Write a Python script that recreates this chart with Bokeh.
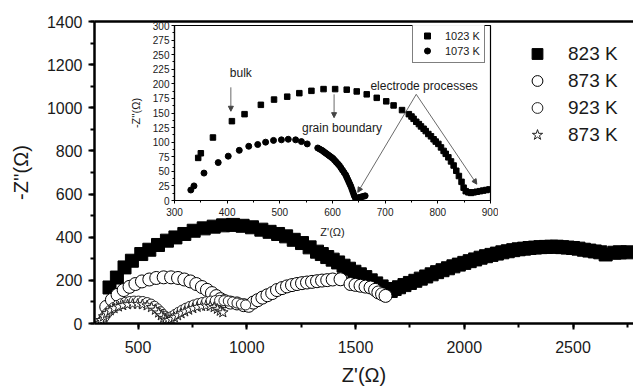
from bokeh.plotting import figure
from bokeh.models import (Range1d, LinearAxis, Legend, LegendItem, Label, Arrow,
                          NormalHead, SingleIntervalTicker, FixedTicker)
from bokeh.layouts import row
from bokeh.embed import file_html
from bokeh.resources import INLINE

FONT = "Liberation Sans"
TXT = "#1a1a1a"

# ---------------- main data ----------------
z823_re = [369, 403, 438, 472, 515, 552, 592, 633, 672, 713, 756, 802, 848, 891, 937, 981,
           1024, 1067, 1105, 1144, 1181, 1216, 1254, 1289, 1323, 1345, 1370, 1395, 1420, 1445,
           1470, 1495, 1520, 1545, 1570, 1595, 1620, 1645, 1662, 1680, 1700, 1725, 1750, 1775,
           1800, 1825, 1850, 1875, 1900, 1925, 1950, 1975, 2000, 2025, 2050, 2075, 2100, 2125,
           2150, 2175, 2200, 2225, 2250, 2275, 2300, 2325, 2350, 2375, 2400, 2425, 2450, 2475,
           2500, 2525, 2550, 2575, 2600, 2625, 2650, 2690, 2715, 2750]
z823_im = [167, 213, 260, 291, 322, 342, 364, 384, 399, 415, 430, 441, 449, 455, 457, 453,
           446, 435, 425, 415, 404, 388, 373, 353, 333, 322, 308, 296, 283, 268,
           254, 240, 228, 215, 200, 186, 172, 158, 151, 160, 168, 178, 188, 198,
           208, 218, 228, 238, 247, 256, 265, 273, 281, 289, 297, 305, 312, 318,
           324, 330, 335, 340, 344, 347, 350, 352, 354, 355, 356, 356, 354, 352,
           350, 347, 342, 338, 334, 330, 320, 328, 330, 330]

z873_re = [354, 380, 406, 434, 461, 488, 518, 552, 584, 618, 652, 684, 713, 741, 768, 794,
           817, 840, 860, 879, 898, 925, 955, 986, 1009, 1030, 1050, 1072, 1095, 1117, 1139,
           1162, 1185, 1208, 1231, 1254, 1277, 1300, 1323, 1346, 1370, 1395, 1431, 1477,
           1500, 1523, 1546, 1569, 1590, 1605, 1622, 1638]
z873_im = [77, 110, 133, 155, 170, 183, 195, 204, 211, 214, 214, 211, 204, 195, 183, 169,
           156, 141, 127, 113, 104, 97, 93, 85, 82, 97, 108, 120, 131, 141, 155,
           164, 172, 178, 183, 187, 190, 193, 196, 199, 201, 204, 205, 183,
           179, 175, 171, 167, 156, 144, 136, 128]

z923_re = [335, 345, 358, 372, 388, 405, 423, 442, 462, 482, 502, 522, 542, 560, 576, 590,
           603, 615, 627, 640, 655, 670, 686, 703, 720, 738, 756, 775, 795, 815, 835, 855,
           875, 895, 915, 935, 955, 975, 995]
z923_im = [10, 30, 48, 62, 74, 84, 92, 98, 102, 104, 104, 102, 97, 90, 80, 68,
           55, 42, 32, 28, 32, 42, 52, 62, 71, 79, 86, 92, 97, 101, 104, 106,
           107, 106, 104, 100, 95, 90, 86]

zstar_re = [320, 330, 342, 356, 372, 390, 410, 430, 452, 475, 498, 520, 542, 562, 580, 595,
            607, 618, 628, 640, 653, 667, 682, 698, 715, 733, 752, 772, 792, 812, 832, 850,
            865, 878, 890]
zstar_im = [2, 15, 32, 47, 60, 70, 78, 84, 88, 90, 90, 88, 83, 75, 63, 50,
            37, 25, 18, 16, 20, 28, 37, 46, 55, 63, 70, 76, 80, 82, 80, 75,
            67, 58, 51]

main_labels = ["823 K", "873 K", "923 K", "873 K"]

# ---------------- inset data ----------------
i1023_re = [345, 350, 373, 409, 433, 464, 489, 514, 537, 560, 583, 605, 627, 646, 665, 684,
            702, 716, 732, 745, 750, 754, 759, 764, 768, 773, 777, 782, 787, 792, 796, 801,
            806, 811, 815, 820, 825, 830, 835, 840, 845, 849, 853, 858, 863, 868, 874, 880,
            886, 892, 898]
i1023_im = [73, 81, 108, 136, 148, 164, 173, 178, 184, 188, 191, 191, 190, 187, 182, 176,
            170, 163, 155, 148, 144, 140, 135, 131, 127, 123, 119, 114, 110, 105, 101, 97,
            91, 85, 80, 74, 67, 60, 51, 42, 32, 22, 16, 14, 13, 14, 15, 16,
            17, 18, 19]

i1073_re = [331, 337, 356, 383, 402, 423, 441, 458, 473, 488, 503, 516, 530, 541, 552, 572,
            576, 580, 583, 586, 589, 592, 595, 598, 601, 604, 607, 610, 613, 616, 619, 622,
            625, 627, 629, 631, 633, 635, 637, 639, 641, 643, 646, 650, 654, 658, 662]
i1073_im = [18, 25, 47, 65, 76, 86, 93, 96, 100, 103, 104, 105, 104, 101, 97, 90,
            88, 86, 84, 82, 80, 78, 76, 74, 72, 69, 66, 63, 60, 56, 52, 48,
            44, 40, 36, 32, 28, 24, 19, 14, 9, 5, 4, 5, 6, 7, 8]

inset_labels = ["1023 K", "1073 K"]

# ---------------- main figure ----------------
p = figure(width=633, height=389, x_range=Range1d(300, 2778), y_range=Range1d(0, 1400),
           output_backend="svg", toolbar_location=None,
           min_border_left=94, min_border_right=0, min_border_top=21, min_border_bottom=66,
           outline_line_color=None, background_fill_color="white", border_fill_color="white")
p.grid.visible = False

r823 = p.scatter(z823_re, z823_im, marker="square", size=13, fill_color="black", line_color="black")
r873 = p.scatter(z873_re, z873_im, marker="circle", size=13, fill_color="white", line_color="black", line_width=1)
r923 = p.scatter(z923_re, z923_im, marker="circle", size=10, fill_color="white", line_color="#222", line_width=1)
rstar = p.scatter(zstar_re, zstar_im, marker="star", size=11, fill_color="white", line_color="#222", line_width=1)

for ax in (p.xaxis[0], p.yaxis[0]):
    ax.axis_line_width = 2.5
    ax.major_tick_line_width = 2
    ax.minor_tick_line_width = 2
    ax.major_tick_out = 6
    ax.major_tick_in = 0
    ax.minor_tick_out = 4
    ax.minor_tick_in = 0
    ax.major_label_text_font = FONT
    ax.major_label_text_font_size = "16px"
    ax.major_label_text_color = TXT
    ax.axis_label_text_font = FONT
    ax.axis_label_text_font_size = "20px"
    ax.axis_label_text_font_style = "normal"
    ax.axis_label_text_color = TXT

p.xaxis[0].ticker = SingleIntervalTicker(interval=500, num_minor_ticks=2)
p.yaxis[0].ticker = SingleIntervalTicker(interval=200, num_minor_ticks=2)
p.xaxis[0].axis_label = "Z'(Ω)"
p.yaxis[0].axis_label = "-Z''(Ω)"
p.xaxis[0].major_label_standoff = 11
p.xaxis[0].axis_label_standoff = 8
p.yaxis[0].major_label_standoff = 6
p.yaxis[0].axis_label_standoff = 12

top = LinearAxis(ticker=FixedTicker(ticks=[]), axis_line_width=2.5,
                 major_label_text_font_size="0px")
p.add_layout(top, "above")

leg = Legend(items=[LegendItem(label=l, renderers=[r]) for l, r in
                    zip(main_labels, [r823, r873, r923, rstar])],
             location=(428, 175), label_text_font=FONT, label_text_font_size="19px",
             label_text_color=TXT, glyph_width=30, glyph_height=27, spacing=0, padding=0,
             margin=0, label_standoff=16, border_line_color=None, background_fill_alpha=0)
p.add_layout(leg, "center")

# ---------------- inset figure (overlaid, absolutely positioned) ----------------
q = figure(width=372, height=262, x_range=Range1d(300, 900), y_range=Range1d(0, 300),
           output_backend="svg", toolbar_location=None,
           min_border_left=48, min_border_right=8, min_border_top=21, min_border_bottom=66,
           outline_line_color="black", outline_line_width=1.2,
           background_fill_color="white", border_fill_alpha=0,
           styles={"position": "absolute", "left": "126px", "top": "4px"})
q.grid.visible = False

s1 = q.scatter(i1023_re, i1023_im, marker="square", size=5.5, fill_color="black", line_color="black")
s2 = q.scatter(i1073_re, i1073_im, marker="circle", size=6, fill_color="black", line_color="black")

for ax in (q.xaxis[0], q.yaxis[0]):
    ax.axis_line_width = 1.2
    ax.major_tick_out = 3
    ax.major_tick_in = 0
    ax.minor_tick_out = 2
    ax.minor_tick_in = 0
    ax.major_label_text_font = FONT
    ax.major_label_text_font_size = "10px"
    ax.major_label_text_color = TXT
    ax.axis_label_text_font = FONT
    ax.axis_label_text_font_size = "11px"
    ax.axis_label_text_font_style = "normal"
    ax.axis_label_text_color = TXT

q.xaxis[0].ticker = SingleIntervalTicker(interval=100, num_minor_ticks=2)
q.yaxis[0].ticker = SingleIntervalTicker(interval=25, num_minor_ticks=2)
q.xaxis[0].axis_label = "Z'(Ω)"
q.yaxis[0].axis_label = "-Z''(Ω)"
q.xaxis[0].major_label_standoff = 4
q.xaxis[0].axis_label_standoff = 7
q.yaxis[0].major_label_standoff = 2
q.yaxis[0].axis_label_standoff = 8

ileg = Legend(items=[LegendItem(label=l, renderers=[r]) for l, r in zip(inset_labels, [s1, s2])],
              location=(238, 137), label_text_font=FONT, label_text_font_size="11px",
              label_text_color=TXT, glyph_width=20, glyph_height=15, spacing=0, padding=4,
              margin=0, label_standoff=8, border_line_color="black", border_line_width=1,
              background_fill_color="white")
q.add_layout(ileg, "center")

ann = dict(text_font=FONT, text_font_size="12px", text_color=TXT)
q.add_layout(Label(x=405, y=219, text="bulk", text_baseline="middle", **ann))
q.add_layout(Label(x=542, y=125, text="grain boundary", text_baseline="middle", **ann))
q.add_layout(Label(x=672, y=197, text="electrode processes", text_baseline="middle", **ann))

def head():
    return NormalHead(size=5, fill_color="#444", line_color="#444")

arrow_kw = dict(line_color="#444", line_width=0.8)
q.add_layout(Arrow(end=head(), x_start=407, y_start=194, x_end=407, y_end=153, **arrow_kw))
q.add_layout(Arrow(end=head(), x_start=603, y_start=182, x_end=603, y_end=142, **arrow_kw))
q.add_layout(Arrow(end=head(), x_start=759, y_start=182, x_end=648, y_end=14, **arrow_kw))
q.add_layout(Arrow(end=head(), x_start=759, y_start=182, x_end=874, y_end=28, **arrow_kw))

layout = row(p, q)
open("out.html", "w").write(file_html(layout, INLINE))
